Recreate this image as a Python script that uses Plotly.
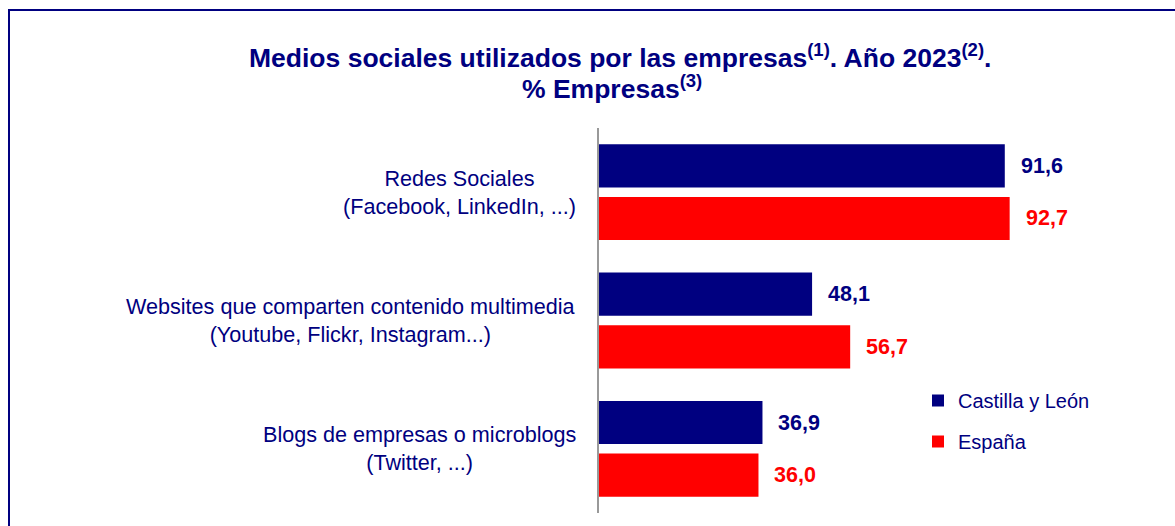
import plotly.graph_objects as go

categories = [
    "Redes Sociales<br>(Facebook, LinkedIn, ...)",
    "Websites que comparten contenido multimedia<br>(Youtube, Flickr, Instagram...)",
    "Blogs de empresas o microblogs<br>(Twitter, ...)",
]
series_names = ["Castilla y León", "España"]
castilla_leon = [91.6, 48.1, 36.9]
espana = [92.7, 56.7, 36.0]

NAVY = "#000080"
RED = "#FF0000"
FONT = "Arial, Liberation Sans, sans-serif"

# pixel layout of the plot area inside the 1175x526 page
W, H = 1175, 526
L, T, B = 599, 128, 13
X_MAX = 100
PLOT_W = 443
R = W - L - PLOT_W
PLOT_H = H - T - B


def px_x(p):
    return (p - L) / PLOT_W


def px_y(p):
    return (H - B - p) / PLOT_H


fig = go.Figure()
for name, values, color in [
    (series_names[0], castilla_leon, NAVY),
    (series_names[1], espana, RED),
]:
    fig.add_trace(
        go.Bar(
            name=name,
            y=categories,
            x=values,
            orientation="h",
            marker=dict(color=color, line=dict(width=0)),
            legendgroup=name,
            hoverinfo="x+y",
        )
    )

annotations = []
# value labels next to each bar
for values, color, shift in [(castilla_leon, NAVY, 26.3), (espana, RED, -26.3)]:
    for cat, v in zip(categories, values):
        annotations.append(
            dict(
                x=v, y=cat, xref="x", yref="y",
                text=f"<b>{v:.1f}</b>".replace(".", ","),
                showarrow=False, xanchor="left", yanchor="middle",
                xshift=14, yshift=shift,
                font=dict(family=FONT, size=21.5, color=color),
            )
        )

# category labels, lines centred within each block
for cat in categories:
    annotations.append(
        dict(
            x=0, y=cat, xref="paper", yref="y",
            text=cat, showarrow=False, xanchor="right", yanchor="middle",
            align="center", xshift=-21,
            font=dict(family=FONT, size=21.6, color=NAVY),
        )
    )

# two-line title
annotations.append(
    dict(
        x=px_x(620), y=px_y(56), xref="paper", yref="paper",
        text="<b>Medios sociales utilizados por las empresas<sup>(1)</sup>. Año 2023<sup>(2)</sup>.</b>",
        showarrow=False, xanchor="center", yanchor="middle",
        font=dict(family=FONT, size=26.5, color=NAVY),
    )
)
annotations.append(
    dict(
        x=px_x(612), y=px_y(87), xref="paper", yref="paper",
        text="<b>% Empresas<sup>(3)</sup></b>",
        showarrow=False, xanchor="center", yanchor="middle",
        font=dict(family=FONT, size=26.5, color=NAVY),
    )
)

fig.update_layout(
    width=W,
    height=H,
    margin=dict(l=L, r=R, t=T, b=B),
    paper_bgcolor="white",
    plot_bgcolor="white",
    barmode="group",
    bargap=0.18,
    bargroupgap=0.18,
    showlegend=True,
    legend=dict(
        x=px_x(918), y=px_y(381), xanchor="left", yanchor="top",
        font=dict(family=FONT, size=20, color=NAVY),
        bgcolor="rgba(0,0,0,0)",
        traceorder="grouped",
        tracegroupgap=12,
    ),
    xaxis=dict(
        range=[0, X_MAX], showgrid=False, zeroline=False,
        showticklabels=False, showline=False, fixedrange=True,
    ),
    yaxis=dict(
        autorange="reversed", showgrid=False, zeroline=False,
        showticklabels=False, showline=True, linecolor="#999999",
        linewidth=2, ticks="", fixedrange=True,
    ),
    annotations=annotations,
    shapes=[
        dict(
            type="rect", xref="paper", yref="paper",
            x0=px_x(9), x1=px_x(W + 20), y0=px_y(H + 20), y1=px_y(10),
            line=dict(color=NAVY, width=2), fillcolor="rgba(0,0,0,0)",
            layer="below",
        )
    ],
)

# the page body has a default 8px margin; drop it so the figure sits at 0,0
fig.write_html(
    "out.html",
    config={"displayModeBar": False},
    post_script="document.body.style.margin='0px';",
)
